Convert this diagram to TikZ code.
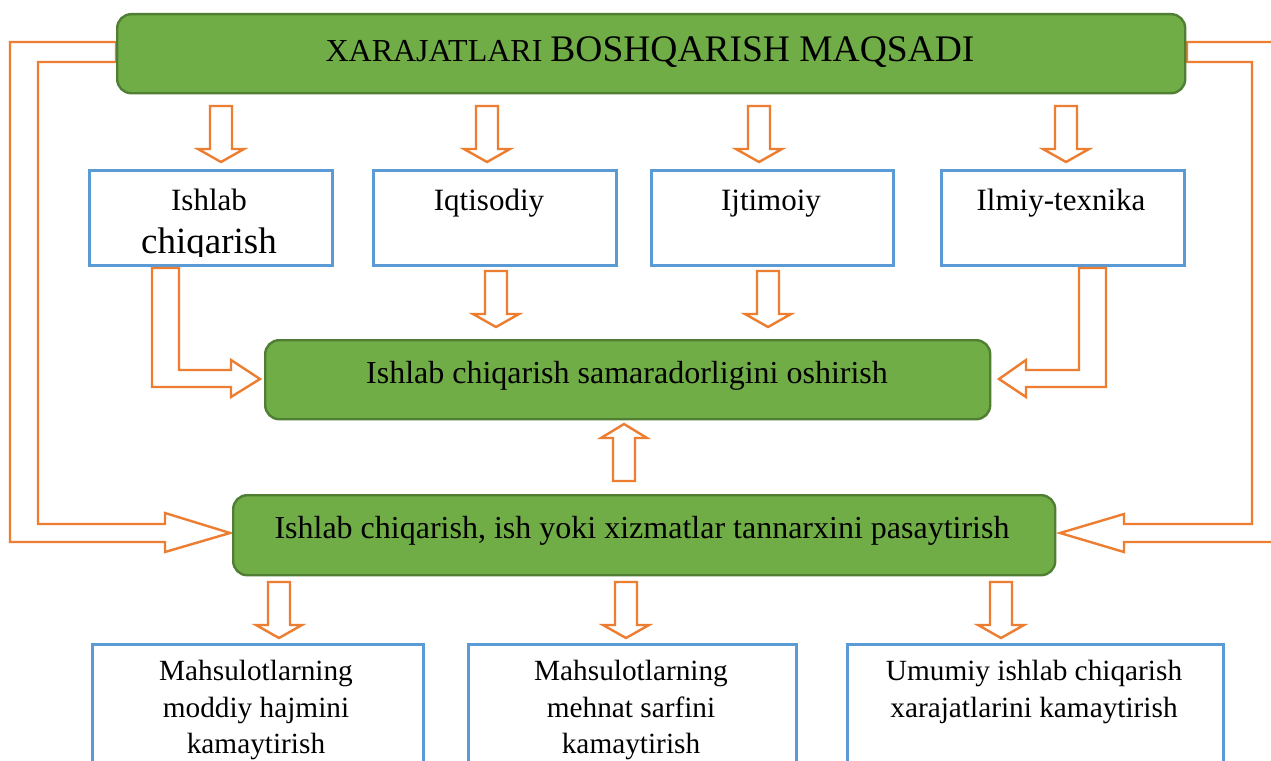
\documentclass[tikz,border=0pt]{standalone}
\usepackage{fontspec}
\setmainfont{Liberation Serif}
\usetikzlibrary{calc}
\definecolor{gfill}{HTML}{70AD47}
\definecolor{gdraw}{HTML}{507E32}
\definecolor{orng}{HTML}{ED7D31}
\definecolor{blu}{HTML}{5B9BD5}
% block arrow pointing down: #1 = top centre, #2 = tip
\newcommand\blockdown[2]{%
  \draw[barrow] ($(#1)+(-11,0)$) -- ($(#2)+(-11,-13)$) -- ($(#2)+(-23,-13)$) -- (#2)
    -- ($(#2)+(23,-13)$) -- ($(#2)+(11,-13)$) -- ($(#1)+(11,0)$) -- cycle;}
\begin{document}
\begin{tikzpicture}[x=1pt,y=-1pt,
  greenbox/.style={draw=gdraw, fill=gfill, line width=2.4pt, rounded corners=14pt, inner sep=0pt, anchor=north west},
  bluebox/.style={draw=blu, line width=2.5pt, inner sep=0pt, anchor=north west},
  barrow/.style={draw=orng, line width=2.4pt, line join=miter, fill=white},
  txt/.style={anchor=base, inner sep=0pt, font=\fontsize{31}{37}\selectfont},
  gtxt/.style={anchor=base, inner sep=0pt, font=\fontsize{32}{37}\selectfont},
  btxt/.style={anchor=base, inner sep=0pt, font=\fontsize{29.3}{37}\selectfont}]
\clip (0,0) rectangle (1271,760);
\fill[white] (0,0) rectangle (1271,760);

% ---- side bent arrows (drawn first, boxes on top) ----
\draw[barrow, fill=none] (116,42) -- (10,42) -- (10,542) -- (165,542) -- (165,552) -- (230,533)
   -- (165,513) -- (165,524) -- (38,524) -- (38,62) -- (116,62) -- cycle;
\draw[barrow, fill=none] (1187,42) -- (1285,42) -- (1285,542) -- (1124,542) -- (1124,552) -- (1060,533)
   -- (1124,514) -- (1124,524) -- (1252,524) -- (1252,62) -- (1187,62) -- cycle;

% ---- top box ----
\node[greenbox, minimum width=1068pt, minimum height=79pt] (top) at (116,13) {};
\node[anchor=base, inner sep=0pt] (title) at (650,62)
  {\fontsize{32}{36}\selectfont XARAJATLARI \fontsize{37.5}{44}\selectfont BOSHQARISH MAQSADI};

% ---- four blue boxes ----
\node[bluebox, minimum width=243pt, minimum height=95pt] (b1) at (88,169) {};
\node[bluebox, minimum width=243pt, minimum height=95pt] (b2) at (372,169) {};
\node[bluebox, minimum width=242pt, minimum height=95pt] (b3) at (650,169) {};
\node[bluebox, minimum width=243pt, minimum height=95pt] (b4) at (940,169) {};

\begin{scope}
  \clip (88,169) rectangle (331,256);
  \node[txt] (t1a) at (209,210) {Ishlab};
  \node[anchor=base, inner sep=0pt, font=\fontsize{37}{40}\selectfont] (t1b) at (209,253) {chiqarish};
\end{scope}
\node[txt] (t2) at (489,210) {Iqtisodiy};
\node[txt] (t3) at (771,210) {Ijtimoiy};
\node[txt] (t4) at (1061,210) {Ilmiy-texnika};

% ---- arrows top -> blue boxes ----
\coordinate (a1s) at (221,106); \coordinate (a1t) at (221,162);
\coordinate (a2s) at (487,106); \coordinate (a2t) at (487,162);
\coordinate (a3s) at (759,106); \coordinate (a3t) at (759,162);
\coordinate (a4s) at (1066,106); \coordinate (a4t) at (1066,162);
\blockdown{a1s}{a1t}
\blockdown{a2s}{a2t}
\blockdown{a3s}{a3t}
\blockdown{a4s}{a4t}

% ---- middle green box ----
\node[greenbox, minimum width=725pt, minimum height=79pt] (mid) at (264,339) {};
\node[gtxt] (tmid) at (627,383) {Ishlab chiqarish samaradorligini oshirish};

% arrows blue -> middle
\coordinate (c2s) at (496,271); \coordinate (c2t) at (496,327);
\coordinate (c3s) at (768,271); \coordinate (c3t) at (768,327);
\blockdown{c2s}{c2t}
\blockdown{c3s}{c3t}
\draw[barrow] (152,268) -- (179,268) -- (179,370) -- (231,370) -- (231,360) -- (260,379)
   -- (231,397) -- (231,387) -- (152,387) -- cycle;
\draw[barrow] (1106,268) -- (1079,268) -- (1079,370) -- (1026,370) -- (1026,360) -- (999,379)
   -- (1026,397) -- (1026,387) -- (1106,387) -- cycle;

% ---- bottom green box ----
\node[greenbox, minimum width=822pt, minimum height=80pt] (bot) at (232,494) {};
\node[gtxt] (tbot) at (642,538) {Ishlab chiqarish, ish yoki xizmatlar tannarxini pasaytirish};

% up arrow bottom -> middle
\draw[barrow] (613,481) -- (613,438) -- (601,438) -- (624,424) -- (647,438) -- (635,438) -- (635,481) -- cycle;

% arrows bottom -> lower boxes
\coordinate (d1s) at (279,582); \coordinate (d1t) at (279,638);
\coordinate (d2s) at (626,582); \coordinate (d2t) at (626,638);
\coordinate (d3s) at (1001,582); \coordinate (d3t) at (1001,638);
\blockdown{d1s}{d1t}
\blockdown{d2s}{d2t}
\blockdown{d3s}{d3t}

% ---- lower blue boxes ----
\node[bluebox, minimum width=331pt, minimum height=140pt] (l1) at (91,643) {};
\node[bluebox, minimum width=328pt, minimum height=140pt] (l2) at (467,643) {};
\node[bluebox, minimum width=376pt, minimum height=140pt] (l3) at (846,643) {};

\node[btxt] (l1a) at (256,680) {Mahsulotlarning};
\node[btxt] (l1b) at (256,717) {moddiy hajmini};
\node[btxt] (l1c) at (256,753) {kamaytirish};
\node[btxt] (l2a) at (631,680) {Mahsulotlarning};
\node[btxt] (l2b) at (631,717) {mehnat sarfini};
\node[btxt] (l2c) at (631,753) {kamaytirish};
\node[btxt] (l3a) at (1034,680) {Umumiy ishlab chiqarish};
\node[btxt] (l3b) at (1034,717) {xarajatlarini kamaytirish};
\end{tikzpicture}
\end{document}
